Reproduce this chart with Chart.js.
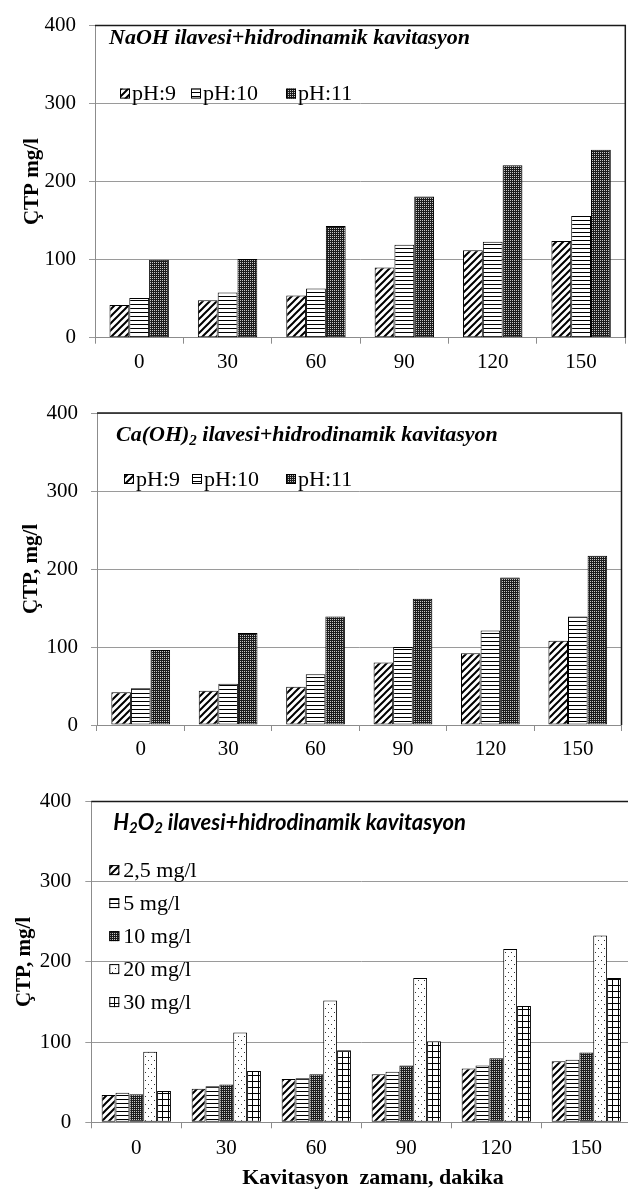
<!DOCTYPE html>
<html>
<head>
<meta charset="utf-8">
<script src="https://cdn.jsdelivr.net/npm/chart.js@4.4.1/dist/chart.umd.min.js"></script>
<style>
  html, body { margin: 0; padding: 0; background: #fff; overflow: hidden; width: 628px; height: 1192px; }
  .panel { position: absolute; left: 0; }
  canvas { display: block; }
</style>
</head>
<body>
<div class="panel" style="top:0px"><canvas id="naoh" width="628" height="385"></canvas></div>
<div class="panel" style="top:385px"><canvas id="caoh" width="628" height="390"></canvas></div>
<div class="panel" style="top:775px"><canvas id="h2o2" width="636" height="417"></canvas></div>
<script>
// Cavitation time (minutes)
const categories = ['0', '30', '60', '90', '120', '150'];
const yTicks = [0, 100, 200, 300, 400];

// NaOH addition + hydrodynamic cavitation (ÇTP, mg/l)
const naohPh9  = [42, 48, 54, 90, 112, 124];
const naohPh10 = [51, 58, 63, 119, 123, 156];
const naohPh11 = [100, 101, 143, 181, 221, 241];

// Ca(OH)2 addition + hydrodynamic cavitation
const caPh9  = [42, 44, 49, 80, 92, 108];
const caPh10 = [47, 53, 65, 100, 121, 139];
const caPh11 = [96, 118, 139, 162, 189, 217];

// H2O2 addition + hydrodynamic cavitation
const h2o2Dose25 = [34, 42, 54, 60, 67, 76];
const h2o2Dose5  = [37, 45, 55, 63, 71, 78];
const h2o2Dose10 = [35, 47, 60, 71, 80, 87];
const h2o2Dose20 = [88, 112, 152, 180, 216, 233];
const h2o2Dose30 = [39, 64, 90, 101, 145, 180];

const phLabels = ['pH:9', 'pH:10', 'pH:11'];
const doseLabels = ['2,5 mg/l', '5 mg/l', '10 mg/l', '20 mg/l', '30 mg/l'];

// ---------- fill patterns ----------
function tile(w, h, paint) {
  const c = document.createElement('canvas');
  c.width = w; c.height = h;
  const g = c.getContext('2d');
  g.fillStyle = '#fff'; g.fillRect(0, 0, w, h);
  paint(g);
  return document.createElement('canvas').getContext('2d').createPattern(c, 'repeat');
}
const patDiagonal = tile(7, 7, g => {
  g.strokeStyle = '#000'; g.lineWidth = 2;
  g.beginPath();
  g.moveTo(-1, 8); g.lineTo(8, -1);
  g.moveTo(-1, 1); g.lineTo(1, -1);
  g.moveTo(6, 8); g.lineTo(8, 6);
  g.stroke();
});
const patHorizontal = tile(4, 4, g => {
  g.fillStyle = '#000'; g.fillRect(0, 0, 4, 1);
});
const patDark = tile(2, 2, g => {
  g.fillStyle = '#1c1c1c'; g.fillRect(0, 0, 2, 2);
  g.fillStyle = '#c8c8c8'; g.fillRect(0, 0, 1, 1);
});
const patSparseDots = tile(6, 8, g => {
  g.fillStyle = '#333'; g.fillRect(1, 1, 1, 1); g.fillRect(4, 5, 1, 1);
});
const patGrid = tile(6, 6, g => {
  g.fillStyle = '#000'; g.fillRect(0, 0, 6, 1); g.fillRect(0, 0, 1, 6);
});

// ---------- in-plot title, legend, frame and bottom axis title ----------
const panelDecor = {
  id: 'panelDecor',
  afterDraw(chart, args, o) {
    const { ctx, chartArea: a } = chart;
    ctx.save();
    ctx.strokeStyle = '#1a1a1a';
    ctx.lineWidth = 1.5;
    ctx.beginPath();
    ctx.moveTo(a.left, a.top);
    ctx.lineTo(a.right, a.top);
    ctx.lineTo(a.right, a.bottom);
    ctx.stroke();

    ctx.fillStyle = '#000';
    ctx.textBaseline = 'middle';
    ctx.textAlign = 'left';
    let x = a.left + o.titleX;
    const y = a.top + o.titleY;
    for (const [txt, isSub] of o.title) {
      ctx.font = isSub ? o.subFont : o.titleFont;
      ctx.fillText(txt, x, isSub ? y + o.subShift : y);
      x += ctx.measureText(txt).width;
    }

    ctx.font = o.legendFont;
    const b = o.box;
    chart.data.datasets.forEach((ds, i) => {
      const lx = a.left + (o.vertical ? o.legendX : o.legendXs[i]);
      const ly = a.top + o.legendY + (o.vertical ? i * o.rowStep : 0);
      ctx.fillStyle = ds.backgroundColor;
      ctx.fillRect(lx, ly - b / 2, b, b);
      ctx.strokeStyle = '#000';
      ctx.lineWidth = 1;
      ctx.strokeRect(lx + 0.5, ly - b / 2 + 0.5, b - 1, b - 1);
      ctx.fillStyle = '#000';
      ctx.fillText(ds.label, lx + b + o.boxGap, ly + 1);
    });

    if (o.xTitle) {
      ctx.font = o.xTitleFont;
      ctx.textAlign = 'center';
      ctx.fillText(o.xTitle, o.xTitleX, o.xTitleY);
    }
    ctx.restore();
  }
};

Chart.defaults.font.family = '"Liberation Serif", "Times New Roman", serif';
Chart.defaults.color = '#000';

function makePanel(id, p) {
  const datasets = p.series.map((s, i) => ({
    label: p.labels[i],
    data: s,
    backgroundColor: p.fills[i],
    borderColor: '#000',
    borderWidth: 1,
    borderSkipped: false,
    barPercentage: 1,
    categoryPercentage: p.groupWidth
  }));
  return new Chart(document.getElementById(id), {
    type: 'bar',
    data: { labels: categories, datasets },
    plugins: [panelDecor],
    options: {
      responsive: false,
      animation: false,
      events: [],
      layout: { padding: p.padding },
      plugins: {
        legend: { display: false },
        tooltip: { enabled: false },
        panelDecor: p.decor
      },
      scales: {
        x: {
          offset: true,
          grid: { offset: true, drawOnChartArea: false, color: '#8c8c8c', tickLength: 6, tickWidth: 1 },
          border: { color: '#8c8c8c', width: 1 },
          ticks: { font: { size: 21 }, padding: p.xTickPad, color: '#000' },
          afterFit: s => { s.height = p.xHeight; }
        },
        y: {
          min: 0, max: 400,
          afterBuildTicks: s => { s.ticks = yTicks.map(v => ({ value: v })); },
          grid: { color: '#9a9a9a', tickLength: 6, lineWidth: 1 },
          border: { color: '#8c8c8c', width: 1 },
          ticks: { font: { size: 21 }, padding: p.yTickPad, color: '#000' },
          title: {
            display: true, text: p.yTitle,
            font: { size: 21, weight: 'bold' }, padding: { top: p.yTitlePad, bottom: 0 }
          },
          afterFit: s => { s.width = p.yWidth; }
        }
      }
    }
  });
}

const serifTitle = 'italic bold 22px "Liberation Serif"';
const serifSub = 'italic bold 15px "Liberation Serif"';

makePanel('naoh', {
  series: [naohPh9, naohPh10, naohPh11],
  labels: phLabels,
  fills: [patDiagonal, patHorizontal, patDark],
  groupWidth: 0.672,
  padding: { top: 15, right: 2.7, bottom: 0, left: 0 },
  yWidth: 95, xHeight: 47.3,
  yTickPad: 13, xTickPad: 6,
  yTitle: 'ÇTP mg/l', yTitlePad: 20,
  decor: {
    title: [['NaOH ilavesi+hidrodinamik kavitasyon', false]],
    titleFont: serifTitle, subFont: serifSub, subShift: 6,
    titleX: 14, titleY: 13,
    legendFont: '22px "Liberation Serif"',
    legendXs: [25, 96, 191], legendY: 68, box: 10, boxGap: 2, vertical: false
  }
});

makePanel('caoh', {
  series: [caPh9, caPh10, caPh11],
  labels: phLabels,
  fills: [patDiagonal, patHorizontal, patDark],
  groupWidth: 0.672,
  padding: { top: 28, right: 6.5, bottom: 0, left: 0 },
  yWidth: 97, xHeight: 50,
  yTickPad: 13, xTickPad: 6,
  yTitle: 'ÇTP, mg/l', yTitlePad: 19,
  decor: {
    title: [['Ca(OH)', false], ['2', true], [' ilavesi+hidrodinamik kavitasyon', false]],
    titleFont: serifTitle, subFont: serifSub, subShift: 6,
    titleX: 19, titleY: 22,
    legendFont: '22px "Liberation Serif"',
    legendXs: [27, 95, 189], legendY: 66, box: 10, boxGap: 2, vertical: false
  }
});

makePanel('h2o2', {
  series: [h2o2Dose25, h2o2Dose5, h2o2Dose10, h2o2Dose20, h2o2Dose30],
  labels: doseLabels,
  fills: [patDiagonal, patHorizontal, patDark, patSparseDots, patGrid],
  groupWidth: 0.77,
  padding: { top: 26.5, right: 4.7, bottom: 0, left: 0 },
  yWidth: 91.3, xHeight: 69.7,
  yTickPad: 14, xTickPad: 8,
  yTitle: 'ÇTP, mg/l', yTitlePad: 12,
  decor: {
    title: [['H', false], ['2', true], ['O', false], ['2', true], [' ilavesi+hidrodinamik kavitasyon', false]],
    titleFont: 'italic bold 22px Lato', subFont: 'italic bold 15px Lato', subShift: 6,
    titleX: 22, titleY: 21,
    legendFont: '22px "Liberation Serif"',
    legendX: 18, legendY: 68.5, box: 10, boxGap: 4, rowStep: 33, vertical: true,
    xTitle: 'Kavitasyon  zamanı, dakika', xTitleFont: 'bold 22px "Liberation Serif"',
    xTitleX: 373, xTitleY: 403
  }
});
</script>
</body>
</html>
